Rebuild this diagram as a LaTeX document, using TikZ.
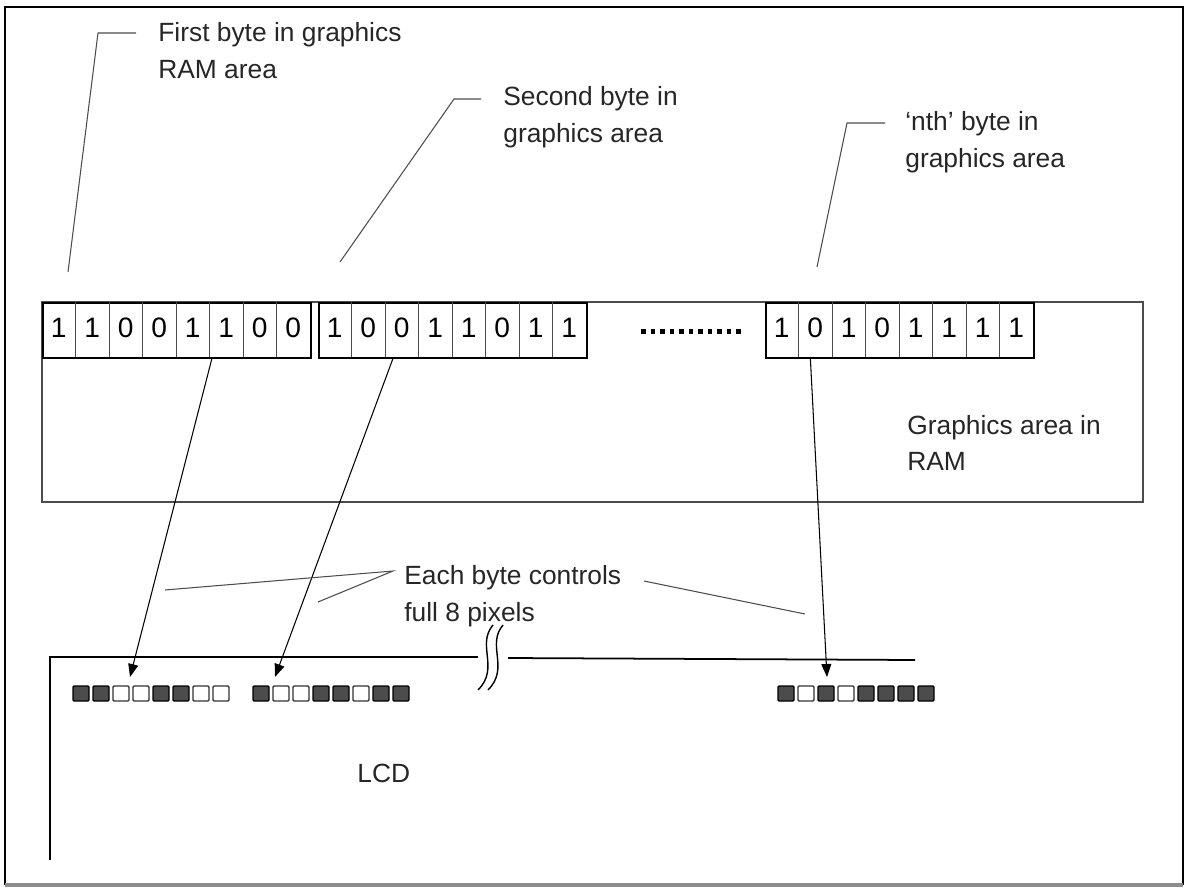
\documentclass[tikz,border=0pt]{standalone}
\usepackage{fontspec}
\setmainfont{Liberation Sans}
\usetikzlibrary{arrows.meta}

\tikzset{
  txt/.style={anchor=west, align=left, inner sep=0pt, font=\fontsize{15}{21}\selectfont, text=black!85},
  leader/.style={draw=black!70, line width=0.6pt},
  ptr/.style={-{Triangle[length=2.6mm,width=2mm]}, line width=0.6pt},
  bit/.style={inner sep=0pt, font=\fontsize{16}{16}\selectfont},
  pix1/.style={draw=black, fill=black!70, rounded corners=0.6pt, line width=0.8pt},
  pix0/.style={draw=black!80, fill=white, rounded corners=0.6pt, line width=0.8pt},
}

\begin{document}
\begin{tikzpicture}[x=0.02cm, y=-0.02cm]
  \useasboundingbox (0,0) rectangle (1185,891);
  % frame
  \draw[line width=1pt] (5,885) -- (5,7) -- (1183,7) -- (1183,885);
  \draw[black!45, line width=2pt] (5,885) -- (1183,885);

  % graphics area in RAM
  \draw[black!70, line width=1pt] (42,302) rectangle (1143,502);
  \node[txt] (lblRam) at (907,443) {Graphics area in\\RAM};

  % bytes in RAM and their pixels on the LCD
  \foreach \b/\x/\p/\bits in {A/42/73/{1,1,0,0,1,1,0,0}, B/318/253/{1,0,0,1,1,0,1,1}, C/765/778/{1,0,1,0,1,1,1,1}}{
    \node[draw, line width=1pt, minimum width=5.36cm, minimum height=1.1cm, inner sep=0pt, anchor=north west] (byte\b) at (\x,302) {};
    \foreach \i in {1,...,7}
      \draw[black!70, line width=0.5pt] (\x+33.5*\i,302) -- ++(0,55);
    \foreach \d [count=\i from 0] in \bits {
      \node[bit] at (\x+33.5*\i+16.75,328) {\d};
      \draw[pix\d] (\p+20*\i,686) rectangle ++(16,15);
    }
  }
  \foreach \k in {0,...,10}
    \fill (641+9.5*\k,329) rectangle ++(4.5,5);

  % labels on top
  \node[txt] (lblFirst) at (158,51) {First byte in graphics\\RAM area};
  \node[txt] (lblSecond) at (503,117) {Second byte in\\graphics area};
  \node[txt] (lblNth) at (905,142) {‘nth’ byte in\\graphics area};
  \coordinate (endFirst) at (68,272);
  \coordinate (endSecond) at (340,262);
  \coordinate (endNth) at (817,267);
  \draw[leader] (lblFirst.west) ++(-22,-18) -- ++(-38,0) -- (endFirst);
  \draw[leader] (lblSecond.west) ++(-22,-18) -- ++(-27,0) -- (endSecond);
  \draw[leader] (lblNth.west) ++(-20,-19) -- ++(-38,0) -- (endNth);

  % LCD
  \draw[line width=1pt] (478,657) -- (50,657) -- (50,860);
  \draw[line width=1pt] (508,658) -- (915,660);
  \draw[line width=0.8pt] (493,625) .. controls (476,645) and (500,668) .. (478,690);
  \draw[line width=0.8pt] (503,625) .. controls (486,645) and (510,668) .. (488,690);
  \node[txt] (lblLcd) at (357,773) {LCD};

  % byte to pixels
  \coordinate (lcdA) at (130,677);
  \coordinate (lcdB) at (275,677);
  \coordinate (lcdC) at (827,677);
  \draw[ptr] ([xshift=0.7cm]byteA.south) -- (lcdA);
  \draw[ptr] ([xshift=-1.2cm]byteB.south) -- (lcdB);
  \draw[ptr] ([xshift=-1.79cm]byteC.south) -- (lcdC);

  % each byte controls
  \node[txt] (lblEach) at (404,596) {Each byte controls\\full 8 pixels};
  \coordinate (eachL) at (165,590);
  \coordinate (eachM) at (318,602);
  \coordinate (eachR) at (805,614);
  \draw[leader] (eachL) -- ([xshift=-0.22cm,yshift=0.5cm]lblEach.west) -- (eachM);
  \draw[leader] ([xshift=4.8cm,yshift=0.3cm]lblEach.west) -- (eachR);
\end{tikzpicture}
\end{document}
